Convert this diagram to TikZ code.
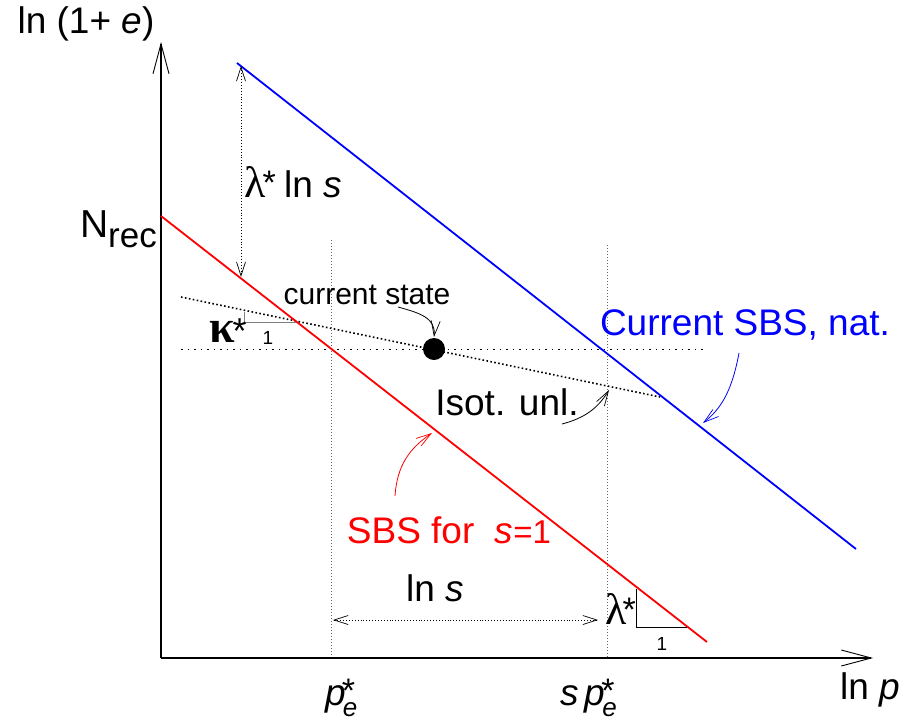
\documentclass[tikz,border=0pt]{standalone}
\usepackage{fontspec}
\setmainfont{Liberation Sans}
\newfontfamily\grk{Liberation Serif}
\usetikzlibrary{arrows.meta}
\newcommand\mysup[1]{\raisebox{3pt}{\fontsize{34}{34}\selectfont #1}}
\newcommand\mysub[1]{\raisebox{-0.3em}{\fontsize{26}{26}\selectfont #1}}
\newcommand\lam{{\fontsize{44}{44}\grk λ}}
\begin{document}
\begin{tikzpicture}[x=1pt,y=-1pt,
  big/.style={font=\fontsize{37}{40}\selectfont, inner sep=0pt},
  mid/.style={font=\fontsize{30}{32}\selectfont, inner sep=0pt},
  tiny/.style={font=\fontsize{19}{20}\selectfont, inner sep=0pt},
  axis/.style={line width=1.6pt, -{Straight Barb[length=30pt,width=16pt,line width=0.9pt]}},
  dblarr/.style={line width=0.9pt, dotted, {Straight Barb[length=14pt,width=9pt,line width=0.7pt]}-{Straight Barb[length=14pt,width=9pt,line width=0.7pt]}},
  ptr/.style={line width=0.8pt, -{Straight Barb[length=15pt,width=9pt,line width=0.7pt]}},
  guide/.style={line width=1pt, dotted, gray!80!black},
  hguide/.style={line width=1pt, dash pattern=on 1.5pt off 5pt},
  sbs/.style={line width=1.8pt},
  tri/.style={line width=0.9pt}
]
\useasboundingbox (0,0) rectangle (907,724);
% coordinates
\coordinate (O) at (161,658);
\coordinate (Ytop) at (161,42);
\coordinate (Xend) at (873,658);
\coordinate (R1) at (161,216);
\coordinate (R2) at (707,642);
\coordinate (B1) at (237,63);
\coordinate (B2) at (856,549);
\coordinate (I1) at (181,297);
\coordinate (I2) at (660,397);
\coordinate (V1a) at (331,240);
\coordinate (V1b) at (331,658);
\coordinate (V2a) at (607,245);
\coordinate (V2b) at (607,658);
\coordinate (H1) at (181,349);
\coordinate (H2) at (707,349);
\coordinate (La) at (241,66);
\coordinate (Lb) at (241,277);
\coordinate (Sa) at (333,620);
\coordinate (Sb) at (598,620);
\coordinate (K1) at (244,312);
\coordinate (K2) at (244,322);
\coordinate (K3) at (296,322);
\coordinate (M1) at (636,589);
\coordinate (M2) at (636,627);
\coordinate (M3) at (687,627);

% guides
\draw[guide] (V1a) -- (V1b);
\draw[guide] (V2a) -- (V2b);
\draw[hguide] (H1) -- (H2);
\draw[line width=1.6pt, dash pattern=on 1.6pt off 2.4pt] (I1) -- (I2);

% axes
\draw[axis] (O) -- (Ytop);
\draw[axis] (O) -- (Xend);

% SBS lines
\draw[sbs, red] (R1) -- (R2);
\draw[sbs, blue] (B1) -- (B2);

% triangles
\draw[tri, gray] (K1) -- (K2) -- (K3);
\draw[tri] (M1) -- (M2) -- (M3);

% double arrows
\draw[dblarr] (La) -- (Lb);
\draw[dblarr] (Sa) -- (Sb);

% current state dot
\node[circle, fill=black, minimum size=22pt, inner sep=0pt] (dot) at (434,349) {};

% labels
\node[big] (ylab) at (86,24) {ln (1+ \textit{e})};
\node[big] (xlab) at (870,690) {ln \textit{p}};
\node[inner sep=0pt, anchor=base east] (nrec) at (157,237) {\fontsize{39}{40}\selectfont N\raisebox{-10pt}{\fontsize{35}{36}\selectfont rec}};
\node[big, anchor=base west] (pe) at (325,705) {\textit{p}\kern-4pt\rlap{\mysup{*}}\kern1pt\mysub{\textit{e}}};
\node[big, anchor=base west] (spe) at (560,705) {\textit{s\,p}\kern-4pt\rlap{\mysup{*}}\kern1pt\mysub{\textit{e}}};
\node[big, anchor=base west] (lnslam) at (244,197) {\lam\kern-3pt\mysup{*}\kern-2pt{} ln \textit{s}};
\node[mid] (cs) at (367,295) {current state};
\node[inner sep=0pt, anchor=base west] (kap) at (209,342) {{\fontsize{46}{46}\grk\bfseries κ}\kern-2pt\raisebox{-1pt}{\fontsize{36}{36}\selectfont *}};
\node[tiny] (one1) at (268,338) {1};
\node[big, blue] (csbs) at (745,325) {Current SBS, nat.};
\node[big] (iso) at (507,402) {Isot. unl.};
\node[big, red] (sbs1) at (449,530) {SBS for \ \textit{s}{\fontsize{33}{33}\selectfont =1}};
\node[big] (lns) at (435,588) {ln \textit{s}};
\node[big, anchor=base west] (lam) at (605,624) {\lam\kern-4pt\mysup{*}};
\node[tiny] (one2) at (662,644) {1};

% pointers
\coordinate (csS) at (398,307);
\coordinate (csT) at (434,337);
\draw[ptr] (csS) .. controls (420,313) and (436,318) .. (csT);
\coordinate (isS) at (562,424);
\coordinate (isT) at (609,390);
\draw[ptr] (isS) .. controls (585,418) and (598,408) .. (isT);
\coordinate (bS) at (739,353);
\coordinate (bT) at (703,423);
\draw[ptr, blue] (bS) .. controls (732,390) and (722,408) .. (bT);
\coordinate (rS) at (395,496);
\coordinate (rT) at (432,433);
\draw[ptr, red] (rS) .. controls (397,465) and (410,448) .. (rT);
\end{tikzpicture}
\end{document}
